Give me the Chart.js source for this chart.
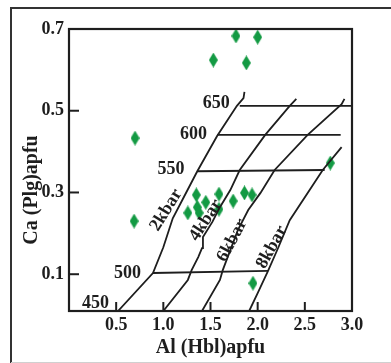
<!DOCTYPE html>
<html><head><meta charset="utf-8">
<script src="https://cdn.jsdelivr.net/npm/chart.js@4.4.0/dist/chart.umd.min.js"></script>
<style>html,body{margin:0;padding:0;background:#fff;} #wrap{width:391px;height:363px;position:relative;}</style>
</head><body><div id="wrap"><canvas id="c" width="391" height="363"></canvas></div>
<script>
// ---- axis ticks ----
const xTicks = [0.5, 1.0, 1.5, 2.0, 2.5, 3.0];
const yTicks = [0.1, 0.3, 0.5, 0.7];

// ---- samples: Al (Hbl) apfu vs Ca (Plg) apfu ----
const sampleAl = [1.77, 2.00, 1.53, 1.88, 0.70, 2.77, 0.69, 1.95, 1.35, 1.59, 1.45, 1.74, 1.86, 1.94, 1.26, 1.36, 1.38, 1.59];
const sampleCa = [0.683, 0.680, 0.624, 0.617, 0.433, 0.372, 0.230, 0.078, 0.294, 0.296, 0.276, 0.279, 0.299, 0.294, 0.250, 0.264, 0.250, 0.259];

// ---- isotherms (°C) ----
const iso650Al = [1.81, 3.0],  iso650Ca = [0.512, 0.512];
const iso600Al = [1.57, 2.88], iso600Ca = [0.441, 0.441];
const iso550Al = [1.36, 2.71], iso550Ca = [0.352, 0.355];
const iso500Al = [0.89, 2.11], iso500Ca = [0.103, 0.108];

// ---- isobars (kbar) ----
const bar2Al = [0.52, 0.89, 1.00, 1.10, 1.20, 1.36, 1.57, 1.78, 1.85, 1.86];
const bar2Ca = [0.010, 0.103, 0.166, 0.237, 0.281, 0.352, 0.438, 0.512, 0.531, 0.546];
const bar4Al = [1.00, 1.26, 1.30, 1.37, 1.41, 1.42, 1.52, 1.60, 1.71, 1.81, 2.08, 2.34, 2.41];
const bar4Ca = [0.010, 0.086, 0.110, 0.142, 0.164, 0.191, 0.228, 0.264, 0.306, 0.355, 0.441, 0.512, 0.529];
const bar6Al = [1.41, 1.60, 1.63, 1.71, 1.79, 1.90, 2.03, 2.18, 2.53, 2.89, 2.92];
const bar6Ca = [0.010, 0.086, 0.110, 0.159, 0.208, 0.257, 0.299, 0.355, 0.441, 0.516, 0.529];
const bar8Al = [1.91, 2.00, 2.11, 2.22, 2.34, 2.69, 2.89];
const bar8Ca = [0.010, 0.054, 0.108, 0.166, 0.232, 0.355, 0.411];

// ---- in-plot labels ----
const tempLabels = ['650', '600', '550', '500', '450'];
const tempLabelAl = [1.56, 1.32, 1.08, 0.62, 0.28];
const tempLabelCa = [0.519, 0.443, 0.357, 0.103, 0.029];
const barLabels = ['2kbar', '4kbar', '6kbar', '8kbar'];
const barLabelAl = [1.03, 1.45, 1.73, 2.15];
const barLabelCa = [0.257, 0.232, 0.183, 0.166];
const barLabelAngle = [-58, -57, -62, -61];

const xTitle = 'Al (Hbl)apfu';
const yTitle = 'Ca (Plg)apfu';

const INK = '#1e1e1e';
const GREEN = '#139a43';
const SERIF = '"Liberation Serif", "Times New Roman", serif';

const diamond = document.createElement('canvas');
diamond.width = 9; diamond.height = 15;
(function(){
  const d = diamond.getContext('2d');
  d.fillStyle = GREEN;
  d.beginPath(); d.moveTo(4.5, 0); d.lineTo(9, 7.5); d.lineTo(4.5, 15); d.lineTo(0, 7.5); d.closePath(); d.fill();
})();

function pts(xs, ys) { return xs.map((x, i) => ({ x: x, y: ys[i] })); }
const lineStyle = { showLine: true, borderColor: INK, borderWidth: 1.8, pointRadius: 0, pointHoverRadius: 0, fill: false, tension: 0 };

const decor = {
  id: 'decor',
  afterDraw(chart) {
    const ctx = chart.ctx, a = chart.chartArea, xs = chart.scales.x, ys = chart.scales.y;
    ctx.save();
    // outer figure frame
    ctx.strokeStyle = '#333'; ctx.lineWidth = 2;
    ctx.beginPath(); ctx.moveTo(11, 363); ctx.lineTo(11, 8); ctx.lineTo(391, 8); ctx.stroke();
    ctx.strokeStyle = '#d0d0d0'; ctx.lineWidth = 1;
    ctx.beginPath(); ctx.moveTo(11, 362.5); ctx.lineTo(391, 362.5); ctx.stroke();
    // plot box
    ctx.strokeStyle = INK; ctx.lineWidth = 2.2;
    ctx.strokeRect(a.left, a.top, a.right - a.left, a.bottom - a.top);
    // inward tick marks
    ctx.lineWidth = 2;
    xTicks.forEach(v => { if (v >= 3.0) return; const px = xs.getPixelForValue(v); ctx.beginPath(); ctx.moveTo(px, a.bottom); ctx.lineTo(px, a.bottom - 9); ctx.stroke(); });
    yTicks.forEach(v => { if (v >= 0.7) return; const py = ys.getPixelForValue(v); ctx.beginPath(); ctx.moveTo(a.left, py); ctx.lineTo(a.left + 10, py); ctx.stroke(); });
    // temperature labels
    ctx.fillStyle = INK; ctx.font = 'bold 18px ' + SERIF; ctx.textAlign = 'center'; ctx.textBaseline = 'middle';
    tempLabels.forEach((t, i) => ctx.fillText(t, xs.getPixelForValue(tempLabelAl[i]), ys.getPixelForValue(tempLabelCa[i])));
    // pressure labels
    barLabels.forEach((t, i) => {
      ctx.save();
      ctx.translate(xs.getPixelForValue(barLabelAl[i]), ys.getPixelForValue(barLabelCa[i]));
      ctx.rotate(barLabelAngle[i] * Math.PI / 180);
      ctx.fillText(t, 0, 0);
      ctx.restore();
    });
    // y title
    ctx.save();
    ctx.font = 'bold 20px ' + SERIF;
    ctx.translate(32, 190); ctx.rotate(-Math.PI / 2);
    ctx.fillText(yTitle, 0, 0);
    ctx.restore();
    ctx.restore();
  }
};

new Chart(document.getElementById('c'), {
  type: 'scatter',
  data: {
    datasets: [
      Object.assign({ data: pts(iso650Al, iso650Ca) }, lineStyle),
      Object.assign({ data: pts(iso600Al, iso600Ca) }, lineStyle),
      Object.assign({ data: pts(iso550Al, iso550Ca) }, lineStyle),
      Object.assign({ data: pts(iso500Al, iso500Ca) }, lineStyle),
      Object.assign({ data: pts(bar2Al, bar2Ca) }, lineStyle),
      Object.assign({ data: pts(bar4Al, bar4Ca) }, lineStyle),
      Object.assign({ data: pts(bar6Al, bar6Ca) }, lineStyle),
      Object.assign({ data: pts(bar8Al, bar8Ca) }, lineStyle),
      { data: pts(sampleAl, sampleCa), pointStyle: diamond, pointRadius: 8, backgroundColor: GREEN, borderWidth: 0, showLine: false }
    ]
  },
  options: {
    responsive: false, animation: false, devicePixelRatio: 1,
    layout: { padding: { left: 0, right: 39, top: 29, bottom: 0 } },
    plugins: { legend: { display: false }, tooltip: { enabled: false } },
    scales: {
      x: {
        type: 'linear', min: 0, max: 3.0,
        afterBuildTicks: s => { s.ticks = xTicks.map(v => ({ value: v })); },
        afterFit: s => { s.height = 52; },
        grid: { display: false, drawTicks: false }, border: { display: false },
        ticks: { callback: v => Number(v).toFixed(1), color: INK, font: { family: SERIF, size: 18, weight: 'bold' }, padding: 4, maxRotation: 0, autoSkip: false },
        title: { display: true, text: xTitle, color: INK, font: { family: SERIF, size: 20, weight: 'bold' }, padding: { top: 0, bottom: 3 } }
      },
      y: {
        type: 'linear', min: 0.01, max: 0.7,
        afterBuildTicks: s => { s.ticks = yTicks.map(v => ({ value: v })); },
        afterFit: s => { s.width = 69; },
        grid: { display: false, drawTicks: false }, border: { display: false },
        ticks: { callback: v => Number(v).toFixed(1), color: INK, font: { family: SERIF, size: 18, weight: 'bold' }, padding: 5, autoSkip: false }
      }
    }
  },
  plugins: [decor]
});
</script>
</body></html>
